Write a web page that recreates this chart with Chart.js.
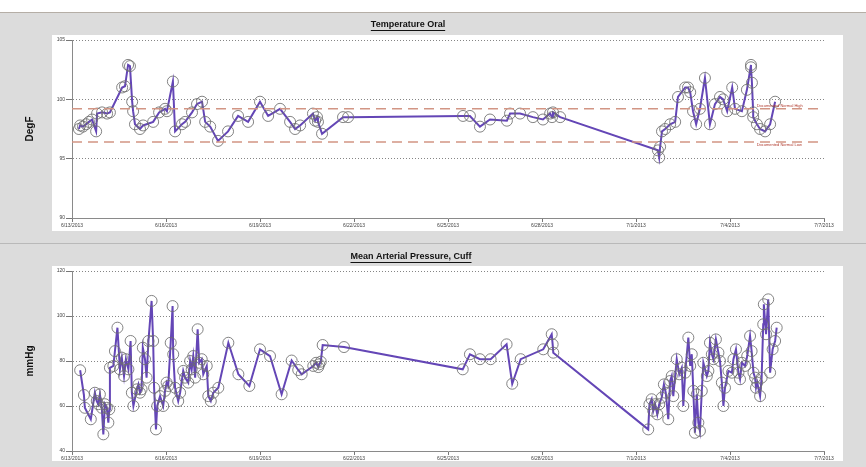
<!DOCTYPE html>
<html>
  <head>
    <script src="https://cdn.jsdelivr.net/npm/chart.js@4.4.0/dist/chart.umd.min.js"></script>
    <style>
      body { margin: 0; width: 866px; height: 467px; background: #fff; position: relative; overflow: hidden; font-family: 'Liberation Sans', Arial, sans-serif; }
      .panel { position: absolute; left: 0; width: 866px; background: #dcdcdc; }
      .sheet { position: absolute; background: #fff; }
      canvas { position: absolute; left: 0; }
    </style>
  </head>

  <body>
    <div class="panel" style="top: 12px; height: 230px; border-top: 1px solid #b5aea6"></div>
    <div class="panel" style="top: 243px; height: 224px; border-top: 1px solid #b9b9b9"></div>
    <div class="sheet" style="left: 52px; top: 35px; width: 791px; height: 196px"></div>
    <div class="sheet" style="left: 52px; top: 266px; width: 791px; height: 195px"></div>
    <canvas id="temp" width="866" height="228" style="top: 13px"></canvas>
    <canvas id="map" width="866" height="223" style="top: 244px"></canvas>
    <script>
      // days after 6/13/2013
      const xTickLabels = ['6/13/2013', '6/16/2013', '6/19/2013', '6/22/2013', '6/25/2013', '6/28/2013', '7/1/2013', '7/4/2013', '7/7/2013'];

      const tempDays = [0.22, 0.26, 0.35, 0.45, 0.54, 0.64, 0.77, 0.80, 0.96, 1.12, 1.21, 1.60, 1.69, 1.79, 1.85, 1.92, 1.95, 2.01, 2.17, 2.27,
        2.59, 2.78, 2.97, 3.03, 3.22, 3.29, 3.51, 3.61, 3.83, 3.99, 4.15, 4.25, 4.41, 4.66, 4.98, 5.30, 5.62, 6.00, 6.26, 6.64,
        6.96, 7.12, 7.28, 7.69, 7.76, 7.82, 7.85, 7.98, 8.65, 8.81, 12.48, 12.70, 13.02, 13.34, 13.88, 13.98, 14.30, 14.71, 15.03, 15.26,
        15.32, 15.35, 15.58, 18.70, 18.74, 18.77, 18.83, 18.93, 19.09, 19.25, 19.34, 19.57, 19.66, 19.73, 19.82, 19.92, 20.04, 20.20, 20.36, 20.52,
        20.68, 20.78, 20.91, 21.07, 21.16, 21.38, 21.54, 21.67, 21.67, 21.70, 21.74, 21.74, 21.86, 21.96, 22.12, 22.28, 22.44];
      const tempValues = [97.5, 97.8, 97.7, 97.9, 98.1, 98.3, 97.3, 98.8, 98.9, 98.8, 98.9, 101.0, 101.1, 102.9, 102.8, 99.8, 99.0, 97.9, 97.5, 97.8,
        98.1, 98.9, 99.2, 99.0, 101.5, 97.3, 97.9, 98.1, 98.9, 99.6, 99.8, 98.1, 97.7, 96.5, 97.3, 98.6, 98.1, 99.8, 98.6, 99.2,
        98.1, 97.5, 97.8, 98.8, 98.2, 98.5, 98.1, 97.1, 98.5, 98.5, 98.6, 98.6, 97.7, 98.3, 98.2, 98.8, 98.8, 98.5, 98.3, 98.8,
        98.5, 98.9, 98.5, 95.7, 95.1, 96.0, 97.3, 97.5, 97.9, 98.1, 100.2, 101.0, 101.0, 100.6, 99.0, 97.9, 99.2, 101.8, 97.9, 99.6,
        100.2, 100.0, 99.0, 101.0, 99.2, 99.0, 100.8, 102.9, 102.7, 101.4, 98.9, 98.5, 97.9, 97.5, 97.3, 97.9, 99.8];
      const normalHigh = 99.2;
      const normalLow = 96.4;

      const mapDays = [0.26, 0.38, 0.41, 0.60, 0.73, 0.79, 0.84, 0.89, 0.95, 1.00, 1.05, 1.11, 1.16, 1.19, 1.21, 1.32, 1.37, 1.45, 1.53, 1.59,
        1.66, 1.72, 1.80, 1.87, 1.91, 1.96, 2.07, 2.12, 2.17, 2.22, 2.26, 2.33, 2.38, 2.44, 2.54, 2.59, 2.62, 2.68, 2.72, 2.81,
        2.91, 2.97, 3.02, 3.07, 3.15, 3.21, 3.23, 3.29, 3.39, 3.45, 3.55, 3.61, 3.71, 3.77, 3.82, 3.87, 3.93, 4.01, 4.06, 4.14,
        4.19, 4.30, 4.35, 4.43, 4.51, 4.67, 4.99, 5.31, 5.66, 6.00, 6.32, 6.69, 7.01, 7.22, 7.33, 7.70, 7.79, 7.86, 7.89, 7.94,
        8.00, 8.68, 12.47, 12.70, 13.02, 13.36, 13.87, 14.05, 14.32, 15.04, 15.31, 15.34, 15.36, 18.39, 18.43, 18.50, 18.55, 18.61, 18.68, 18.74,
        18.82, 18.89, 18.95, 19.03, 19.09, 19.14, 19.19, 19.30, 19.38, 19.46, 19.51, 19.57, 19.67, 19.73, 19.78, 19.83, 19.88, 19.94, 19.99, 20.04,
        20.10, 20.15, 20.26, 20.31, 20.36, 20.42, 20.47, 20.55, 20.63, 20.68, 20.74, 20.79, 20.84, 20.95, 21.06, 21.11, 21.19, 21.27, 21.32, 21.38,
        21.48, 21.55, 21.64, 21.69, 21.75, 21.80, 21.83, 21.87, 21.96, 22.01, 22.06, 22.08, 22.15, 22.22, 22.28, 22.36, 22.44, 22.49];
      const mapValues = [75.9, 64.9, 59.2, 54.1, 65.9, 62.2, 60.8, 65.2, 59.2, 47.4, 60.8, 59.2, 52.6, 58.5, 77.0, 77.8, 84.4, 94.8, 76.3, 81.5,
        73.3, 80.8, 76.3, 88.9, 65.9, 60.0, 67.4, 69.6, 65.9, 67.4, 85.9, 80.8, 72.6, 88.9, 106.7, 88.9, 68.1, 49.6, 60.0, 64.4,
        60.0, 66.7, 70.4, 68.9, 88.1, 104.4, 83.0, 68.1, 62.2, 65.9, 75.6, 72.6, 70.4, 80.0, 76.3, 82.2, 72.6, 94.1, 79.2, 80.8,
        74.1, 77.8, 64.4, 62.2, 65.9, 68.1, 88.1, 74.1, 68.9, 85.2, 82.2, 65.2, 80.2, 76.0, 74.1, 77.8, 79.2, 77.3, 78.5, 79.7,
        87.1, 86.2, 76.3, 83.0, 80.8, 80.8, 87.4, 69.9, 80.8, 85.2, 91.9, 87.4, 83.7, 49.6, 60.8, 63.0, 57.8, 60.8, 56.3, 60.8,
        63.7, 69.6, 65.9, 54.1, 71.1, 73.3, 64.4, 80.8, 74.1, 77.0, 60.0, 74.8, 90.4, 77.8, 83.0, 66.7, 48.1, 65.2, 52.6, 48.9,
        66.7, 79.2, 73.3, 75.6, 88.1, 83.0, 80.8, 89.6, 83.7, 80.0, 70.4, 60.0, 68.1, 75.6, 74.8, 80.8, 85.2, 74.8, 71.9, 79.2,
        77.8, 82.2, 91.1, 84.4, 74.8, 72.6, 68.1, 70.4, 64.4, 72.6, 96.3, 105.2, 91.9, 107.4, 74.8, 85.2, 88.9, 94.8];

      const pts = (xs, ys) => xs.slice(0, Math.min(xs.length, ys.length)).map((x, i) => ({ x: x, y: ys[i] }));

      // underlined panel title + small labels on reference lines
      const panelTitle = {
        id: 'panelTitle',
        afterDraw(chart, args, opts) {
          const ctx = chart.ctx;
          ctx.save();
          ctx.font = 'bold 9px "Liberation Sans", Arial';
          ctx.fillStyle = '#111';
          ctx.textAlign = 'center';
          ctx.textBaseline = 'middle';
          ctx.fillText(opts.text, opts.x, opts.y);
          const w = ctx.measureText(opts.text).width;
          ctx.fillRect(opts.x - w / 2, opts.y + 5, w, 1);
          if (opts.notes) {
            ctx.font = '4px "Liberation Sans", Arial';
            ctx.fillStyle = '#b03a2e';
            ctx.textAlign = 'left';
            opts.notes.forEach((n) => {
              const x = chart.scales.x.getPixelForValue(n.x);
              const y = chart.scales.y.getPixelForValue(n.y);
              ctx.fillText(n.text, x, y + n.dy);
            });
          }
          ctx.restore();
        },
      };

      function makeChart(id, cfg) {
        return new Chart(document.getElementById(id), {
          type: 'line',
          data: { datasets: cfg.datasets },
          plugins: [panelTitle],
          options: {
            responsive: false,
            animation: false,
            devicePixelRatio: 1,
            layout: { padding: { left: 20, right: 42, top: 27, bottom: cfg.bottom } },
            plugins: {
              legend: { display: false },
              tooltip: { enabled: false },
              panelTitle: cfg.title,
            },
            scales: {
              x: {
                type: 'linear',
                min: 0,
                max: 24,
                afterFit: (s) => { s.height = 10; },
                grid: { drawOnChartArea: false, drawTicks: true, tickLength: 4, tickColor: '#777' },
                border: { color: '#8a8a8a', width: 1 },
                ticks: {
                  stepSize: 3,
                  autoSkip: false,
                  maxRotation: 0,
                  padding: 1,
                  color: '#444',
                  font: { size: 5, family: '"Liberation Sans", Arial' },
                  callback: (v) => xTickLabels[Math.round(v / 3)],
                },
              },
              y: {
                min: cfg.min,
                max: cfg.max,
                afterFit: (s) => { s.width = 52; },
                title: { display: true, text: cfg.unit, color: '#111', font: { size: 10, weight: 'bold', family: '"Liberation Sans", Arial' } },
                grid: {
                  color: (c) => (c.tick && c.tick.value === cfg.min ? 'rgba(0,0,0,0)' : '#858585'),
                  lineWidth: 1,
                  tickLength: 6,
                  tickColor: '#777',
                  tickBorderDash: [],
                },
                border: { color: '#8a8a8a', width: 1, dash: [1, 2] },
                ticks: {
                  stepSize: cfg.step,
                  padding: 1,
                  color: '#444',
                  font: { size: 5, family: '"Liberation Sans", Arial' },
                },
              },
            },
          },
        });
      }

      const lineStyle = {
        borderColor: '#6446b6',
        borderWidth: 2,
        pointRadius: 5.5,
        pointBorderColor: 'rgba(110,110,110,0.85)',
        pointBorderWidth: 1,
        pointBackgroundColor: 'rgba(0,0,0,0)',
        tension: 0,
      };
      const refStyle = { borderColor: '#d29584', borderWidth: 1.5, borderDash: [10, 6], pointRadius: 0 };

      makeChart('temp', {
        min: 90, max: 105, step: 5, unit: 'DegF', bottom: 13,
        title: {
          text: 'Temperature Oral', x: 408, y: 12,
          notes: [
            { x: 21.85, y: normalHigh, dy: -3, text: 'Documented Normal High' },
            { x: 21.85, y: normalLow, dy: 3, text: 'Documented Normal Low' },
          ],
        },
        datasets: [
          Object.assign({ data: pts([0, 24], [normalHigh, normalHigh]) }, refStyle),
          Object.assign({ data: pts([0, 24], [normalLow, normalLow]) }, refStyle),
          Object.assign({ data: pts(tempDays, tempValues) }, lineStyle),
        ],
      });

      makeChart('map', {
        min: 40, max: 120, step: 20, unit: 'mmHg', bottom: 6,
        title: { text: 'Mean Arterial Pressure, Cuff', x: 411, y: 13 },
        datasets: [Object.assign({ data: pts(mapDays, mapValues) }, lineStyle)],
      });
    </script>
  </body>
</html>
